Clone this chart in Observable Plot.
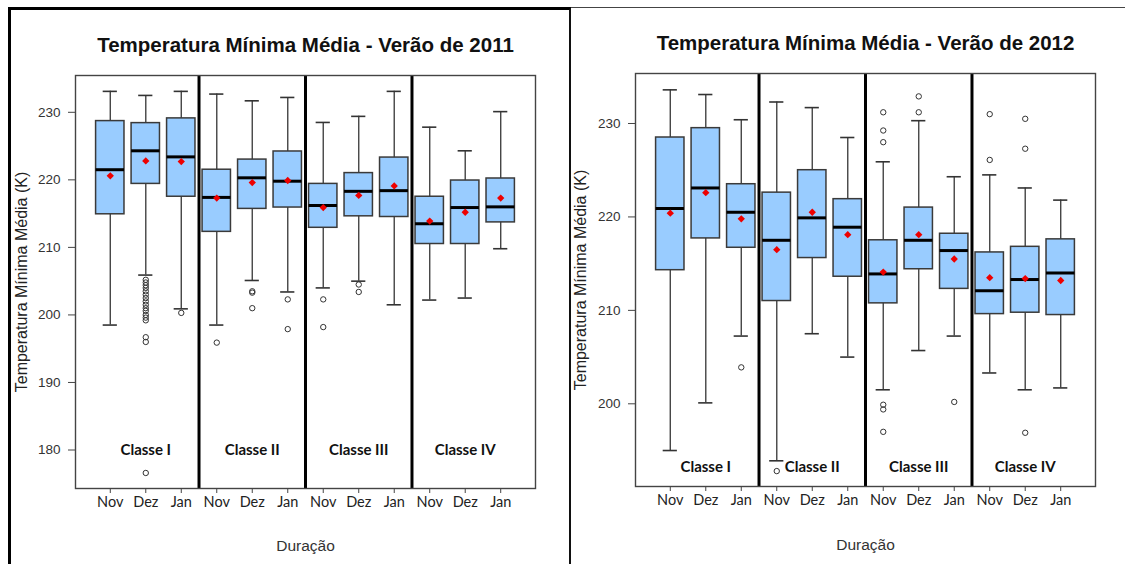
<!DOCTYPE html>
<html>
<head>
<meta charset="utf-8">
<script src="https://cdn.jsdelivr.net/npm/d3@7"></script>
<script src="https://cdn.jsdelivr.net/npm/@observablehq/plot@0.6"></script>
<style>
  html, body { margin: 0; padding: 0; background: #fff; }
  #wrap { position: relative; width: 1125px; height: 564px; overflow: hidden; background: #fff; }
  .panel { position: absolute; top: 0; }
  .panel svg { display: block; }
  #borderL { position: absolute; left: 8px; top: 7px; width: 558px; height: 600px;
             border-left: 3px solid #000; border-top: 3px solid #000; border-right: 2px solid #111; }
  #borderR { position: absolute; left: 570px; top: 7px; width: 555px; height: 0; border-top: 1px solid #444; }
</style>
</head>
<body>
<div id="wrap">
  <div id="borderR"></div>
  <div id="borderL"></div>
  <div class="panel" id="left" style="left:0px"></div>
  <div class="panel" id="right" style="left:570px"></div>
</div>
<script>
// ---------- shared labels ----------
const months = ["Nov", "Dez", "Jan"];
const classes = ["Classe I", "Classe II", "Classe III", "Classe IV"];
const yLabel = "Temperatura Mínima Média (K)";
const xLabel = "Duração";

// ---------- Verão de 2011 ----------
const title2011 = "Temperatura Mínima Média - Verão de 2011";
const lo2011   = [198.5, 205.9, 200.9, 198.5, 205.1, 203.4, 204.0, 205.0, 201.5, 202.2, 202.5, 209.8];
const q1_2011  = [214.9, 219.4, 217.5, 212.3, 215.7, 215.9, 212.9, 214.6, 214.5, 210.5, 210.5, 213.7];
const med2011  = [221.5, 224.3, 223.4, 217.4, 220.3, 219.8, 216.2, 218.3, 218.4, 213.5, 215.9, 216.0];
const q3_2011  = [228.7, 228.4, 229.1, 221.5, 223.0, 224.2, 219.4, 221.0, 223.3, 217.5, 219.9, 220.2];
const hi2011   = [233.1, 232.5, 233.1, 232.7, 231.7, 232.2, 228.5, 229.4, 233.1, 227.8, 224.3, 230.1];
const mean2011 = [220.6, 222.8, 222.7, 217.3, 219.6, 219.9, 215.9, 217.7, 219.1, 213.9, 215.2, 217.3];
const out2011  = [
  [],
  [205.2, 204.8, 204.4, 204.0, 203.5, 203.0, 202.5, 202.0, 201.5, 201.0, 200.6, 200.0, 199.6, 199.2, 196.7, 196.0, 176.6],
  [200.3],
  [195.9],
  [203.5, 203.3, 201.0],
  [202.3, 197.9],
  [202.3, 198.2],
  [204.5, 203.4],
  [], [], [], []
];
const yTicks2011 = [180, 190, 200, 210, 220, 230];

// ---------- Verão de 2012 ----------
const title2012 = "Temperatura Mínima Média - Verão de 2012";
const lo2012   = [195.0, 200.1, 207.25, 193.9, 207.5, 205.0, 201.5, 205.7, 207.25, 203.3, 201.5, 201.7];
const q1_2012  = [214.3, 217.7, 216.7, 211.0, 215.6, 213.6, 210.75, 214.4, 212.3, 209.6, 209.75, 209.5];
const med2012  = [220.9, 223.1, 220.5, 217.5, 219.9, 218.9, 213.9, 217.5, 216.4, 212.1, 213.3, 214.0];
const q3_2012  = [228.5, 229.5, 223.5, 222.6, 225.0, 221.9, 217.5, 221.0, 218.2, 216.2, 216.8, 217.6];
const hi2012   = [233.6, 233.1, 230.4, 232.3, 231.7, 228.5, 225.9, 230.3, 224.3, 224.5, 223.1, 221.8];
const mean2012 = [220.4, 222.6, 219.8, 216.5, 220.5, 218.1, 214.1, 218.1, 215.5, 213.5, 213.4, 213.2];
const out2012  = [
  [], [], [203.9],
  [192.8], [], [],
  [231.2, 229.25, 228.0, 199.9, 199.4, 197.0],
  [232.9, 231.2],
  [200.2],
  [231.0, 226.1],
  [230.5, 227.3, 196.9],
  []
];
const yTicks2012 = [200, 210, 220, 230];

function panel(cfg) {
  const rows = d3.range(12).map(i => ({
    pos: i + 1, lo: cfg.lo[i], q1: cfg.q1[i], med: cfg.med[i],
    q3: cfg.q3[i], hi: cfg.hi[i], mean: cfg.mean[i]
  }));
  const outs = cfg.out.flatMap((arr, i) => arr.map(v => ({pos: i + 1, v})));
  const labels = classes.map((c, k) => ({c, pos: 3 * k + 2}));
  const half = 0.4, cap = 0.2;
  return Plot.plot({
    width: cfg.width,
    height: 564,
    marginLeft: cfg.ml, marginRight: cfg.mr, marginTop: cfg.mt, marginBottom: cfg.mb,
    x: {domain: [0.02, 12.98], label: null},
    y: {domain: cfg.yDomain, label: null},
    style: {fontFamily: "'Liberation Sans', Arial, sans-serif", background: "transparent", overflow: "visible"},
    marks: [
      Plot.ruleX(rows, {x: "pos", y1: "lo", y2: "hi", stroke: "#444", strokeWidth: 1.4}),
      Plot.ruleY(rows, {y: "hi", x1: d => d.pos - cap, x2: d => d.pos + cap, stroke: "#333", strokeWidth: 1.6}),
      Plot.ruleY(rows, {y: "lo", x1: d => d.pos - cap, x2: d => d.pos + cap, stroke: "#333", strokeWidth: 1.6}),
      Plot.rect(rows, {x1: d => d.pos - half, x2: d => d.pos + half, y1: "q1", y2: "q3",
        fill: "#99CCFF", stroke: "#3a3a3a", strokeWidth: 1.5}),
      Plot.ruleY(rows, {y: "med", x1: d => d.pos - half, x2: d => d.pos + half, stroke: "#000", strokeWidth: 3}),
      Plot.dot(outs, {x: "pos", y: "v", r: 2.7, stroke: "#333", strokeWidth: 1, fill: "none"}),
      Plot.dot(rows, {x: "pos", y: "mean", symbol: "diamond2", r: 3.3, fill: "#ee0000", stroke: "none"}),
      Plot.ruleX([3.5, 6.5, 9.5], {stroke: "#000", strokeWidth: 3}),
      Plot.frame({stroke: "#444", strokeWidth: 1.4}),
      Plot.text(labels, {x: "pos", y: () => cfg.classY, text: "c", fontFamily: "Lato, 'Open Sans', sans-serif",
        fontWeight: "bold", fontSize: 15, fill: "#111"}),
      Plot.axisY({ticks: cfg.yTicks, tickSize: 7, tickPadding: 8, fontSize: 13.5,
        stroke: "#444", fill: "#333", label: null}),
      Plot.axisX({ticks: d3.range(1, 13), tickFormat: d => months[(d - 1) % 3], tickSize: 5, tickPadding: 3,
        fontFamily: "Lato, 'Open Sans', sans-serif", fontSize: 14.5, stroke: "#444", fill: "#222", label: null}),
      Plot.text([cfg.title], {text: d => d, frameAnchor: "top", lineAnchor: "bottom", dy: cfg.titleDy,
        fontWeight: "bold", fontSize: 20.5, fill: "#111"}),
      Plot.text([xLabel], {text: d => d, frameAnchor: "bottom", lineAnchor: "bottom", dy: cfg.xlabDy,
        fontSize: 15.5, fill: "#333"}),
      Plot.text([yLabel], {text: d => d, frameAnchor: "left", textAnchor: "middle", lineAnchor: "middle",
        rotate: -90, dx: cfg.ylabDx, fontSize: 16, fill: "#222"})
    ]
  });
}

document.getElementById("left").appendChild(panel({
  title: title2011, lo: lo2011, q1: q1_2011, med: med2011, q3: q3_2011, hi: hi2011, mean: mean2011, out: out2011,
  yDomain: [174.3, 235.45], yTicks: yTicks2011, classY: 180,
  width: 570, ml: 75, mr: 35, mt: 75, mb: 76, titleDy: -24, xlabDy: 62, ylabDx: -54
}));
document.getElementById("right").appendChild(panel({
  title: title2012, lo: lo2012, q1: q1_2012, med: med2012, q3: q3_2012, hi: hi2012, mean: mean2012, out: out2012,
  yDomain: [191.15, 235.35], yTicks: yTicks2012, classY: 193.2,
  width: 555, ml: 65, mr: 30, mt: 73, mb: 78, titleDy: -24, xlabDy: 63, ylabDx: -55
}));
</script>
</body>
</html>
